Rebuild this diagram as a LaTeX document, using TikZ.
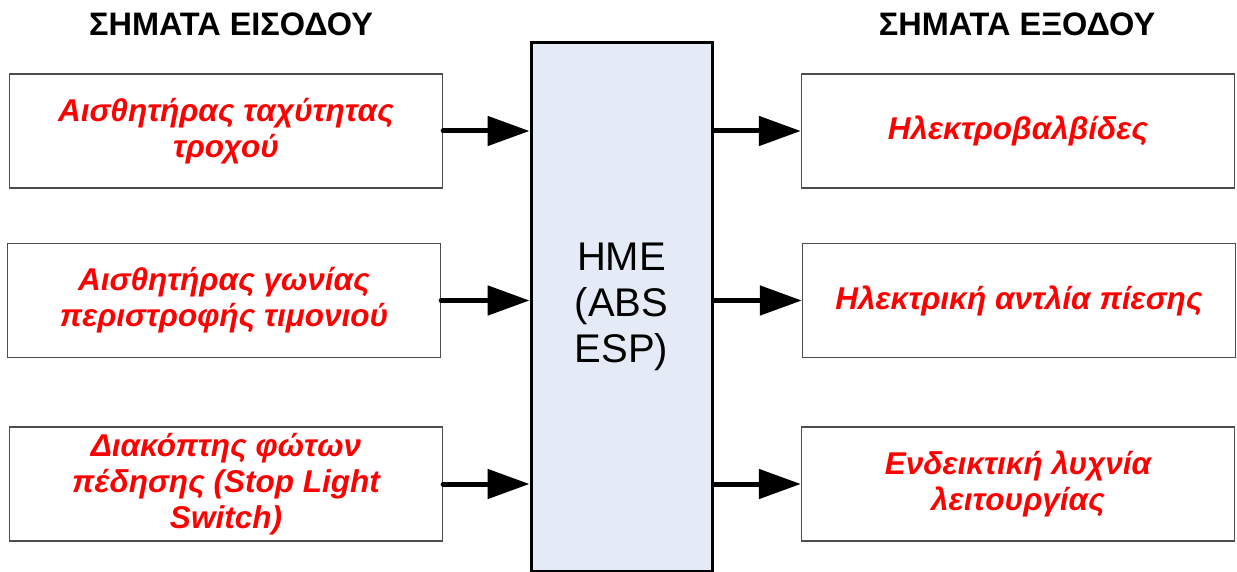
\documentclass[tikz,border=0pt]{standalone}
\usepackage{fontspec}
\setmainfont{Liberation Sans}
\usetikzlibrary{arrows.meta}
\definecolor{ecufill}{RGB}{228,235,246}
\definecolor{sigred}{RGB}{255,0,0}
\begin{document}
\begin{tikzpicture}[x=1pt,y=-1pt,
  sigbox/.style={draw=black!70,line width=1.4pt,fill=white,minimum width=433pt,minimum height=114pt,
    align=center,text=sigred,font=\fontsize{31.5}{36}\selectfont\bfseries\itshape,inner sep=0pt},
  head/.style={anchor=base,font=\fontsize{32.5}{38}\selectfont\bfseries},
  sig/.style={line width=5pt,line cap=round,-{Triangle[length=42pt,width=29pt]}}]
\useasboundingbox (0,0) rectangle (1237,572);
% inputs
\node[head] (inhead) at (231,36) {ΣΗΜΑΤΑ ΕΙΣΟΔΟΥ};
\node[sigbox] (in1) at (226,131) {Αισθητήρας ταχύτητας\\τροχού};
\node[sigbox] (in2) at (224,300.5) {Αισθητήρας γωνίας\\περιστροφής τιμονιού};
\node[sigbox] (in3) at (226,484) {Διακόπτης φώτων\\πέδησης (Stop Light\\Switch)};
% control unit
\node[draw=black,line width=3pt,fill=ecufill,minimum width=181pt,minimum height=528pt,inner sep=0pt,
  align=center,font=\fontsize{40}{46}\selectfont] (ecu) at (621.5,307) {HME\\(ABS\\ESP)};
% outputs
\node[head] (outhead) at (1017,36) {ΣΗΜΑΤΑ ΕΞΟΔΟΥ};
\node[sigbox] (out1) at (1018,131) {Ηλεκτροβαλβίδες};
\node[sigbox] (out2) at (1019,300.5) {Ηλεκτρική αντλία πίεσης};
\node[sigbox] (out3) at (1018,484) {Ενδεικτική λυχνία\\λειτουργίας};
% signals
\draw[sig] (in1.east) -- (in1.east -| ecu.west);
\draw[sig] (in2.east) -- (in2.east -| ecu.west);
\draw[sig] (in3.east) -- (in3.east -| ecu.west);
\draw[sig] (out1.west -| ecu.east) -- (out1.west);
\draw[sig] (out2.west -| ecu.east) -- (out2.west);
\draw[sig] (out3.west -| ecu.east) -- (out3.west);
\end{tikzpicture}
\end{document}
